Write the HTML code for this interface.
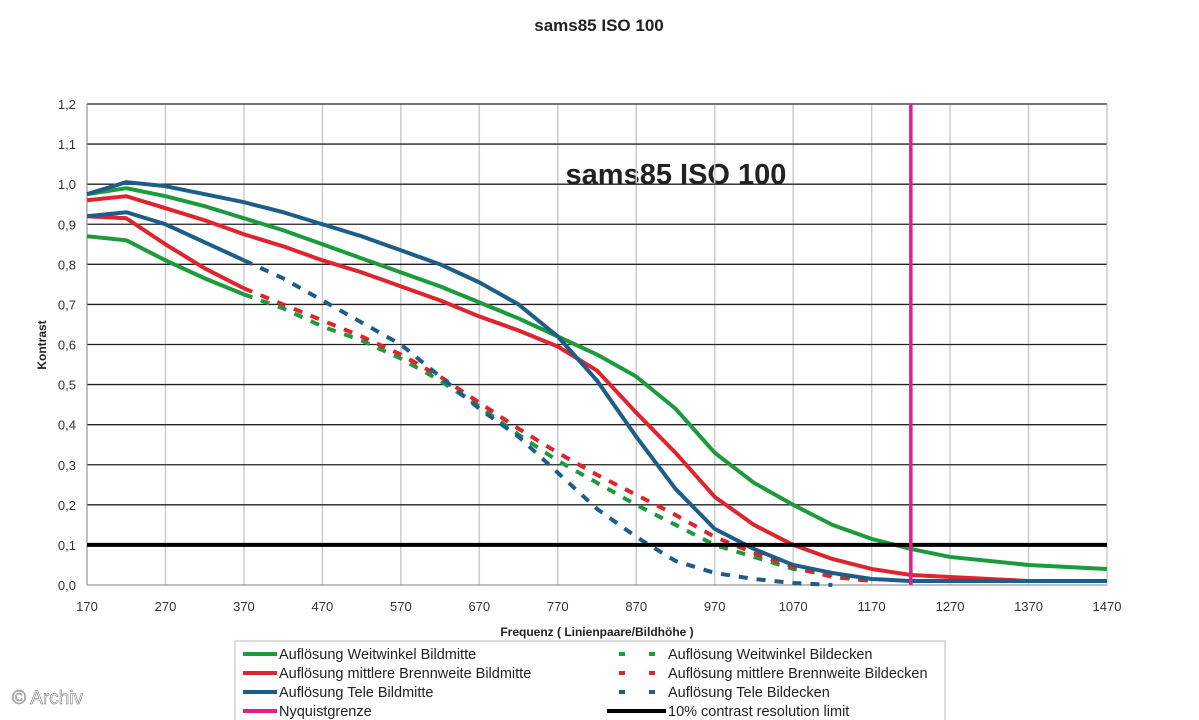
<!DOCTYPE html>
<html><head><meta charset="utf-8"><style>
body{margin:0;background:#fff;width:1199px;height:720px;overflow:hidden;font-family:"Liberation Sans",sans-serif}
</style></head><body>
<svg id="c" width="1199" height="720" style="position:absolute;left:0;top:0">
<text x="599" y="31" text-anchor="middle" font-size="17" font-weight="bold" fill="#222">sams85 ISO 100</text>
<text x="676" y="184" text-anchor="middle" font-size="29" font-weight="bold" fill="#222">sams85 ISO 100</text>
<text transform="translate(46,345) rotate(-90)" text-anchor="middle" font-size="12" font-weight="bold" fill="#222">Kontrast</text>
<text x="597" y="636" text-anchor="middle" font-size="12" font-weight="bold" fill="#222">Frequenz ( Linienpaare/Bildhöhe )</text>
<g id="grid"></g><g id="series"></g>
<rect x="235" y="641" width="710" height="85" fill="none" stroke="#bbb"/>
<g id="legend" font-size="14.5" fill="#222"></g>
<text x="12" y="704" font-size="19" fill="#fff" stroke="#666" stroke-width="0.5">© Archiv</text>
</svg>
<script>
const xs=[170,220,270,320,370,420,470,520,570,620,670,720,770,820,870,920,970,1020,1070,1120,1170,1220,1270,1370,1470];
const xTicks=[170,270,370,470,570,670,770,870,970,1070,1170,1270,1370,1470];
const yTicks=[0,0.1,0.2,0.3,0.4,0.5,0.6,0.7,0.8,0.9,1.0,1.1,1.2];
const wwMitte=[0.975,0.99,0.97,0.945,0.915,0.885,0.85,0.815,0.78,0.745,0.705,0.665,0.62,0.575,0.52,0.44,0.33,0.255,0.2,0.15,0.115,0.09,0.07,0.05,0.04];
const mbMitte=[0.96,0.97,0.94,0.91,0.875,0.845,0.81,0.78,0.745,0.71,0.67,0.635,0.595,0.535,0.43,0.33,0.22,0.15,0.1,0.065,0.04,0.025,0.02,0.01,0.01];
const teleMitte=[0.975,1.005,0.995,0.975,0.955,0.93,0.9,0.87,0.835,0.8,0.755,0.7,0.62,0.51,0.37,0.24,0.14,0.09,0.05,0.03,0.015,0.01,0.01,0.01,0.01];
const wwEcken=[0.87,0.86,0.81,0.765,0.725,0.69,0.645,0.61,0.565,0.51,0.445,0.375,0.31,0.255,0.2,0.15,0.1,0.07,0.04,0.025,0.01];
const mbEcken=[0.92,0.915,0.85,0.79,0.74,0.7,0.66,0.62,0.575,0.52,0.455,0.39,0.33,0.275,0.225,0.175,0.12,0.08,0.045,0.02,0.01];
const teleEcken=[0.92,0.93,0.9,0.855,0.81,0.765,0.71,0.655,0.6,0.52,0.44,0.37,0.28,0.19,0.12,0.06,0.03,0.015,0.005,0.0];
const nyquist=1220, limit=0.1;
const X=v=>87+(v-170)*(1020/1300), Y=v=>585-v*(481/1.2);
const NS='http://www.w3.org/2000/svg';
function mk(p,t,a){const e=document.createElementNS(NS,t);for(const k in a)e.setAttribute(k,a[k]);p.appendChild(e);return e;}
const g=document.getElementById('grid'),s=document.getElementById('series'),lg=document.getElementById('legend');
xTicks.forEach(t=>{const l=mk(g,'line',{x1:X(t),x2:X(t),y1:Y(1.2),y2:Y(0),stroke:'#ccc','stroke-width':1.5});

const tx=mk(g,'text',{x:X(t),y:611,'text-anchor':'middle','font-size':13,fill:'#333'});tx.textContent=t;
});
yTicks.forEach(t=>{const l=mk(g,'line',{x1:X(170),x2:X(1470),y1:Y(t),y2:Y(t),stroke:t==0?'#999':'#222','stroke-width':1.3});

const tx=mk(g,'text',{x:76,y:Y(t)+5,'text-anchor':'end','font-size':13,fill:'#333'});tx.textContent=t.toFixed(1).replace('.',',');
});
mk(g,'line',{x1:X(170),x2:X(170),y1:Y(1.2),y2:Y(0),stroke:'#999'});
mk(g,'line',{x1:X(1470),x2:X(1470),y1:Y(1.2),y2:Y(0),stroke:'#ccc'});
function path(vals,col,dash,name){let d='';vals.forEach((v,i)=>{d+=(i?'L':'M')+X(xs[i])+','+Y(v);});
if(dash){const n=vals.slice(0,5);let d2='';n.forEach((v,i)=>{d2+=(i?'L':'M')+X(xs[i])+','+Y(v);});
const a=mk(s,'path',{d:d2,fill:'none',stroke:col,'stroke-width':4});
let d3='';vals.slice(4).forEach((v,i)=>{d3+=(i?'L':'M')+X(xs[i+4])+','+Y(v);});d=d3;}
const p=mk(s,'path',{d:d,fill:'none',stroke:col,'stroke-width':4,'stroke-linejoin':'round'});if(dash)p.setAttribute('stroke-dasharray','9 9');
}
const G='#1c9a3c',R='#e0242e',B='#1d5d8a',M='#e0208a';
path(wwEcken,G,true,'series-weitwinkel-bildecken');path(mbEcken,R,true,'series-mittlere-bildecken');path(teleEcken,B,true,'series-tele-bildecken');
path(wwMitte,G,false,'series-weitwinkel-bildmitte');path(mbMitte,R,false,'series-mittlere-bildmitte');path(teleMitte,B,false,'series-tele-bildmitte');
const lim=mk(s,'line',{x1:X(170),x2:X(1470),y1:Y(limit),y2:Y(limit),stroke:'#000','stroke-width':4});

const ny=mk(s,'line',{x1:X(nyquist),x2:X(nyquist),y1:Y(1.2),y2:Y(0),stroke:M,'stroke-width':3.5});

const items=[[G,false,'Auflösung Weitwinkel Bildmitte',0,0],[R,false,'Auflösung mittlere Brennweite Bildmitte',0,1],[B,false,'Auflösung Tele Bildmitte',0,2],[M,false,'Nyquistgrenze',0,3],
[G,true,'Auflösung Weitwinkel Bildecken',1,0],[R,true,'Auflösung mittlere Brennweite Bildecken',1,1],[B,true,'Auflösung Tele Bildecken',1,2],['#000',false,'10% contrast resolution limit',1,3]];
items.forEach(it=>{const x0=it[3]?607:243,x1=it[3]?666:277,y=654+it[4]*19;
const l=mk(lg,'line',{x1:x0,x2:x1,y1:y,y2:y,stroke:it[0],'stroke-width':4});if(it[1]){l.setAttribute('stroke-dasharray','6 24');l.setAttribute('x1',x0+12);}

const t=mk(lg,'text',{x:it[3]?668:279,y:y+5});t.textContent=it[2];
});
</script>
</body></html>
